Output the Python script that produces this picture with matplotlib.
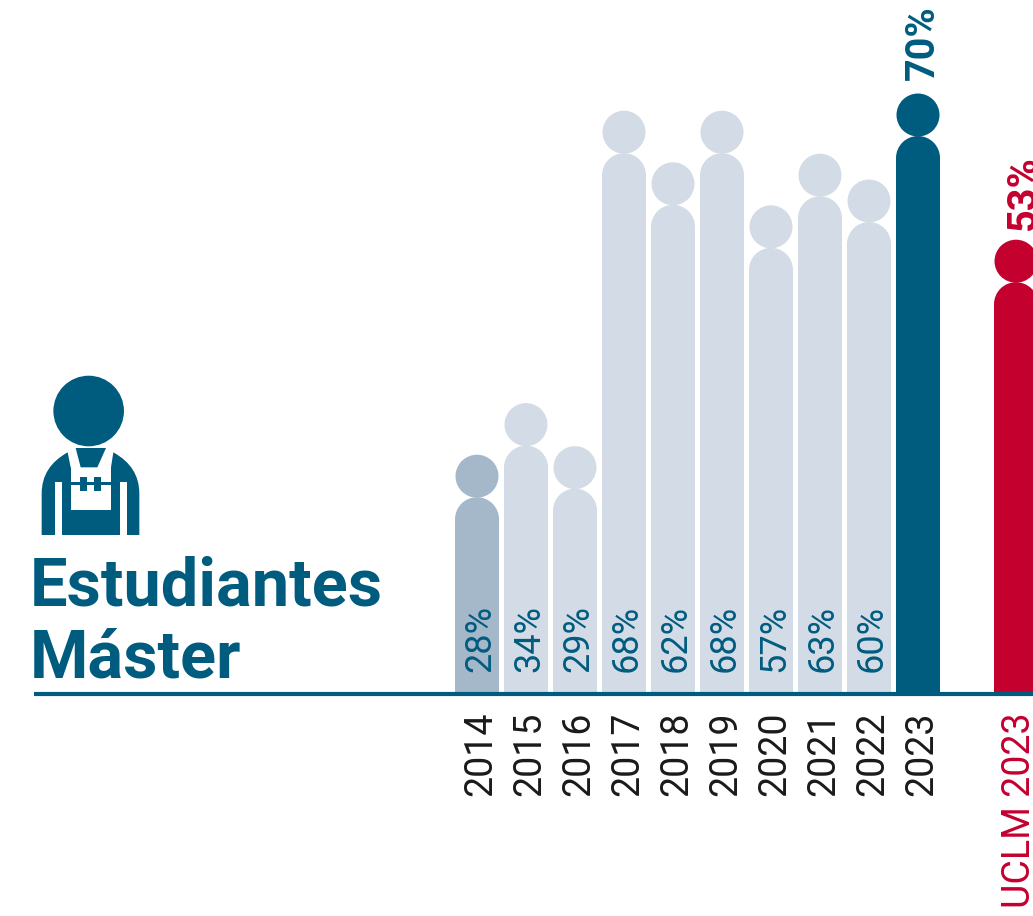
import matplotlib.pyplot as plt
from matplotlib.patches import Ellipse, Circle, Polygon, PathPatch, Rectangle
from matplotlib.path import Path
from matplotlib.transforms import Affine2D

plt.rcParams['font.family'] = ['Roboto', 'DejaVu Sans']

years = ['2014', '2015', '2016', '2017', '2018', '2019', '2020', '2021', '2022', '2023']
values = [28, 34, 29, 68, 62, 68, 57, 63, 60, 70]
uclm_label = 'UCLM 2023'
uclm_value = 53
title_lines = ['Estudiantes', 'Máster']

DARK = '#005C7F'
LIGHT = '#D3DCE6'
MID = '#A5B8CA'
RED = '#C4002F'

W, H = 1033, 916
fig = plt.figure(figsize=(W / 100, H / 100), dpi=100)
ax = fig.add_axes([0, 0, 1, 1])

# escala: 49 px por ano, 8.6 px por ponto percentual, a base nao comeca em zero
px_x = 49.0
px_y = 8.6
base = 5.35
ax.set_xlim(-477 / px_x, (W - 477) / px_x)
ax.set_ylim(base - (H - 692) / px_y, base + 692 / px_y)
ax.axis('off')


def person(x, v, color):
    # corpo com ombros redondos + cabeca
    ax.bar(x, v - 22 / px_y - base, bottom=base, width=44 / px_x, color=color, linewidth=0)
    ax.add_patch(Ellipse((x, v - 22 / px_y), 44 / px_x, 44 / px_y, color=color, lw=0))
    ax.add_patch(Ellipse((x, v + 21 / px_y), 43 / px_x, 43 / px_y, color=color, lw=0))


for i, (y, v) in enumerate(zip(years, values)):
    if i == 0:
        c = MID
    elif y == '2023':
        c = DARK
    else:
        c = LIGHT
    person(i, v, c)
    ax.text(i + 4 / px_x, base - 20 / px_y, y, rotation=90, ha='center', va='top',
            fontsize=27, color='#1a1a1a')
    if y == '2023':
        ax.text(i + 5 / px_x, v + 56 / px_y, f'{v}%', rotation=90, ha='center', va='bottom',
                fontsize=28.5, color=DARK, fontweight='bold')
    else:
        ax.text(i + 3 / px_x, base + 20 / px_y, f'{v}%', rotation=90, ha='center', va='bottom',
                fontsize=26, color=DARK)

person(11, uclm_value, RED)
ax.text(11 + 4 / px_x, base - 20 / px_y, uclm_label, rotation=90, ha='center', va='top',
        fontsize=27, color=RED, clip_on=True)
ax.text(11 + 8 / px_x, uclm_value + 52 / px_y, f'{uclm_value}%', rotation=90, ha='center', va='bottom',
        fontsize=28.5, color=RED, fontweight='bold', clip_on=True)

# linha da base
ax.plot([(34 - 477) / px_x, (W - 477) / px_x], [base - 1.5 / px_y] * 2, color=DARK, lw=3.0,
        solid_capstyle='butt', zorder=5)

# icone e titulo em pixels, origem no canto superior
pix = Affine2D().scale(1, -1).translate(0, H) + fig.dpi_scale_trans.inverted() + fig.dpi_scale_trans


def z(x, y):
    return (20 + x / 3, 360 + y / 3)


body = Path([z(65, 525), z(65, 400), z(65, 320), z(143, 277), z(172, 322), z(252, 322), z(280, 277),
             z(358, 320), z(358, 400), z(358, 525), z(65, 525)],
            [Path.MOVETO, Path.LINETO, Path.CURVE3, Path.CURVE3, Path.LINETO, Path.LINETO, Path.LINETO,
             Path.CURVE3, Path.CURVE3, Path.LINETO, Path.CLOSEPOLY])
ax.add_patch(PathPatch(body, transform=pix, fc=DARK, lw=0))
ax.add_patch(Rectangle(z(152, 322), 121 / 3, 128 / 3, transform=pix, fc='white', lw=0))
ax.add_patch(Polygon([z(143, 277), z(165, 262), z(182, 322), z(152, 322)], transform=pix, fc='white', lw=0))
ax.add_patch(Polygon([z(280, 277), z(260, 262), z(243, 322), z(273, 322)], transform=pix, fc='white', lw=0))
ax.add_patch(Polygon([z(167, 264), z(258, 264), z(232, 322), z(182, 322)], transform=pix, fc=DARK, lw=0))
ax.add_patch(Rectangle(z(105, 365), 20 / 3, 160 / 3, transform=pix, fc='white', lw=0))
ax.add_patch(Rectangle(z(300, 365), 20 / 3, 160 / 3, transform=pix, fc='white', lw=0))
ax.add_patch(Rectangle(z(180, 350), 20 / 3, 43 / 3, transform=pix, fc=DARK, lw=0))
ax.add_patch(Rectangle(z(223, 350), 20 / 3, 43 / 3, transform=pix, fc=DARK, lw=0))
ax.add_patch(Rectangle(z(152, 367), 121 / 3, 7 / 3, transform=pix, fc=DARK, lw=0))
ax.add_patch(Circle(z(206, 153), 35.3, transform=pix, fc=DARK, lw=0))

ax.text(30, 605, title_lines[0], transform=pix, fontsize=48, fontweight='bold', color=DARK, va='baseline')
ax.text(30, 677, title_lines[1], transform=pix, fontsize=48, fontweight='bold', color=DARK, va='baseline')

fig.savefig('out.png', dpi=100)
